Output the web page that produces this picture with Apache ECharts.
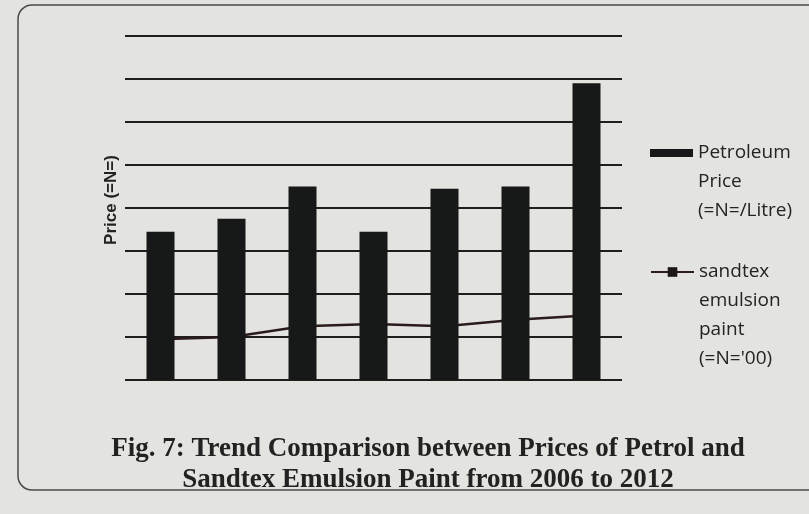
<!DOCTYPE html>
<html lang="en">
<head>
    <meta charset="UTF-8" />
    <title>Fig. 7 - Petrol vs Sandtex</title>
    <script src="https://cdn.jsdelivr.net/npm/echarts@6/dist/echarts.min.js"></script>
    <style>
        html, body { margin: 0; padding: 0; background: #e3e3e0; }
        #chart { width: 809px; height: 514px; }
    </style>
</head>
<body>
    <div id="chart"></div>
    <script type="text/javascript">
        // values (one gridline = 20)
        const years = ['2006', '2007', '2008', '2009', '2010', '2011', '2012'];
        const petrolPrice = [69, 75, 90, 69, 89, 90, 138];
        const paintPrice = [19, 20, 25, 26, 25, 28, 30];
        const petrolName = 'Petroleum\nPrice\n(=N=/Litre)';
        const paintName = 'sandtex\nemulsion\npaint\n(=N=\'00)';
        const caption = 'Fig. 7: Trend Comparison between Prices of Petrol and\nSandtex Emulsion Paint from 2006 to 2012';

        const ink = '#161917';
        const lh = 29;

        // legend text is centred on its icon; pad with empty lines above so
        // the first line sits next to the icon like in the figure
        function padTop(name) {
            let n = name.split('\n').length;
            return '\n'.repeat(n - 1) + name;
        }

        let chart = echarts.init(document.getElementById('chart'), null, { renderer: 'canvas' });
        let option = {
            backgroundColor: '#e3e3e0',
            animation: false,
            graphic: [{
                type: 'rect',
                shape: { x: 18, y: 5, width: 860, height: 485, r: 14 },
                style: { fill: 'none', stroke: '#4a4a4a', lineWidth: 1.5 },
                silent: true
            }, {
                type: 'text',
                x: 428,
                y: 434,
                style: {
                    text: caption,
                    align: 'center',
                    fontFamily: 'Liberation Serif',
                    fontWeight: 'bold',
                    fontSize: 27,
                    lineHeight: 31,
                    fill: '#222'
                },
                silent: true
            }],
            legend: [{
                data: [{ name: petrolName, icon: 'rect' }],
                formatter: padTop,
                orient: 'vertical',
                left: 650,
                top: 153 - 2.5 * lh,
                padding: 0,
                itemWidth: 43,
                itemHeight: 8,
                itemGap: 5,
                textStyle: {
                    fontFamily: 'Open Sans',
                    fontSize: 19,
                    color: '#232323',
                    lineHeight: lh
                }
            }, {
                data: [paintName],
                formatter: padTop,
                orient: 'vertical',
                left: 650,
                top: 272 - 3.5 * lh,
                padding: 0,
                itemWidth: 43,
                itemHeight: 12,
                itemGap: 5,
                textStyle: {
                    fontFamily: 'Open Sans',
                    fontSize: 19,
                    color: '#232323',
                    lineHeight: lh
                }
            }],
            grid: { left: 125, right: 187, top: 36, bottom: 134 },
            xAxis: {
                type: 'category',
                data: years,
                axisLine: { show: false },
                axisTick: { show: false },
                axisLabel: { show: false }
            },
            yAxis: {
                type: 'value',
                min: 0,
                max: 160,
                interval: 20,
                name: 'Price (=N=)',
                nameLocation: 'middle',
                nameGap: 5,
                nameTextStyle: {
                    fontFamily: 'Liberation Sans',
                    fontWeight: 'bold',
                    fontSize: 17,
                    color: '#222',
                    padding: [0, 0, 0, 16]
                },
                axisLabel: { show: false },
                axisTick: { show: false },
                axisLine: { show: false },
                splitLine: { lineStyle: { color: '#1e1e1e', width: 2 } }
            },
            series: [{
                name: paintName,
                type: 'line',
                data: paintPrice,
                z: 1,
                symbol: 'rect',
                symbolSize: 11,
                itemStyle: { color: '#1f1616' },
                lineStyle: { color: '#2a1c1c', width: 2.5 }
            }, {
                name: petrolName,
                type: 'bar',
                data: petrolPrice,
                z: 3,
                barWidth: 28,
                itemStyle: { color: ink }
            }]
        };
        chart.setOption(option);
    </script>
</body>
</html>
